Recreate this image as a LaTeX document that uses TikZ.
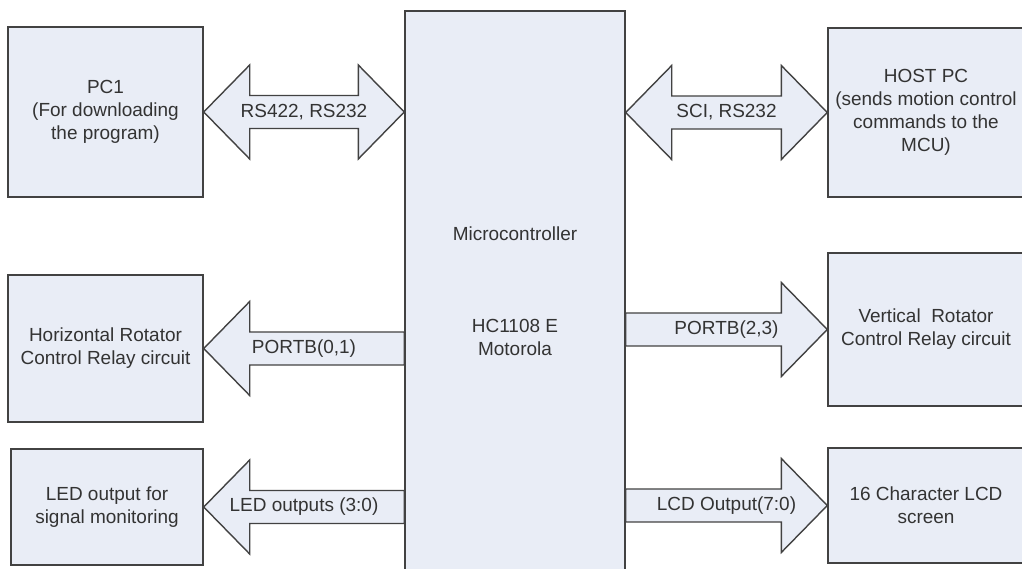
\documentclass[tikz,border=0pt]{standalone}
\usepackage{fontspec}
\setmainfont{Liberation Sans}
\usetikzlibrary{positioning,calc}
\definecolor{boxfill}{HTML}{E9EDF6}
\definecolor{boxline}{HTML}{424242}
\definecolor{inktext}{HTML}{333333}

\begin{document}
\begin{tikzpicture}[
    every node/.style={font=\fontsize{10.8}{13.1}\selectfont,text=inktext},
    block/.style={draw=boxline,fill=boxfill,line width=0.8pt,align=center,inner sep=0pt},
    fatarrow/.style={draw=boxline,fill=boxfill,line width=0.8pt,line join=miter},
    lbl/.style={inner sep=1pt}
  ]
        \useasboundingbox (0,0) rectangle (20.44,11.38);
        % blocks
        \node[block,minimum width=4.4cm,minimum height=11.2cm] (mcu) at (10.3,5.56) {Microcontroller\\[1.38cm]HC1108 E\\Motorola};
        \node[block,minimum width=3.9cm,minimum height=3.4cm] (pc) at (2.11,9.14) {PC1\\(For downloading\\the program)};
        \node[block,minimum width=3.9cm,minimum height=2.94cm] (hrc) at (2.11,4.41) {Horizontal Rotator\\Control Relay circuit};
        \node[block,minimum width=3.84cm,minimum height=2.32cm] (led) at (2.14,1.24) {LED output for\\signal monitoring};
        \node[block,minimum width=3.92cm,minimum height=3.38cm] (host) at (18.52,9.13) {HOST PC\\(sends motion control\\commands to the\\MCU)};
        \node[block,minimum width=3.92cm,minimum height=3.06cm] (vrc) at (18.52,4.79) {Vertical~~Rotator\\Control Relay circuit};
        \node[block,minimum width=3.92cm,minimum height=2.3cm] (lcd) at (18.52,1.27) {16 Character LCD\\screen};
        % two-way links
        \draw[fatarrow] (pc.east) -- ++(0.92,0.94) -- ++(0,-0.61) -- ($(mcu.west |- pc.east)+(-0.92,0.33)$) -- ++(0,0.61) -- (mcu.west |- pc.east)
          -- ++(-0.92,-0.94) -- ++(0,0.61) -- ($(pc.east)+(0.92,-0.33)$) -- ++(0,-0.61) -- cycle;
        \draw[fatarrow] (mcu.east |- host.west) -- ++(0.92,0.94) -- ++(0,-0.61) -- ($(host.west)+(-0.92,0.33)$) -- ++(0,0.61) -- (host.west)
          -- ++(-0.92,-0.94) -- ++(0,0.61) -- ($(mcu.east |- host.west)+(0.92,-0.33)$) -- ++(0,-0.61) -- cycle;
        % outputs to the left
        \foreach \blk in {hrc,led} {
          \draw[fatarrow] (\blk.east) -- ++(0.92,0.94) -- ++(0,-0.61) -- ($(mcu.west |- \blk.east)+(0,0.33)$) -- ++(0,-0.66)
            -- ($(\blk.east)+(0.92,-0.33)$) -- ++(0,-0.61) -- cycle;
        }
        % outputs to the right
        \foreach \blk in {vrc,lcd} {
          \draw[fatarrow] ($(mcu.east |- \blk.west)+(0,0.33)$) -- ($(\blk.west)+(-0.92,0.33)$) -- ++(0,0.61) -- (\blk.west)
            -- ++(-0.92,-0.94) -- ++(0,0.61) -- ($(mcu.east |- \blk.west)+(0,-0.33)$) -- cycle;
        }
        % link labels
        \node[lbl] (pclbl) at ($(pc.east)!0.5!(mcu.west |- pc.east)$) {RS422, RS232};
        \node[lbl] (hostlbl) at ($(mcu.east |- host.west)!0.5!(host.west)$) {SCI, RS232};
        \node[lbl] (hrclbl) at ($(hrc.east)!0.5!(mcu.west |- hrc.east)$) {PORTB(0,1)};
        \node[lbl] (ledlbl) at ($(led.east)!0.5!(mcu.west |- led.east)$) {LED outputs (3:0)};
        \node[lbl] (vrclbl) at ($(mcu.east |- vrc.west)!0.5!(vrc.west)$) {PORTB(2,3)};
        \node[lbl] (lcdlbl) at ($(mcu.east |- lcd.west)!0.5!(lcd.west)$) {LCD Output(7:0)};
      \end{tikzpicture}
\end{document}
